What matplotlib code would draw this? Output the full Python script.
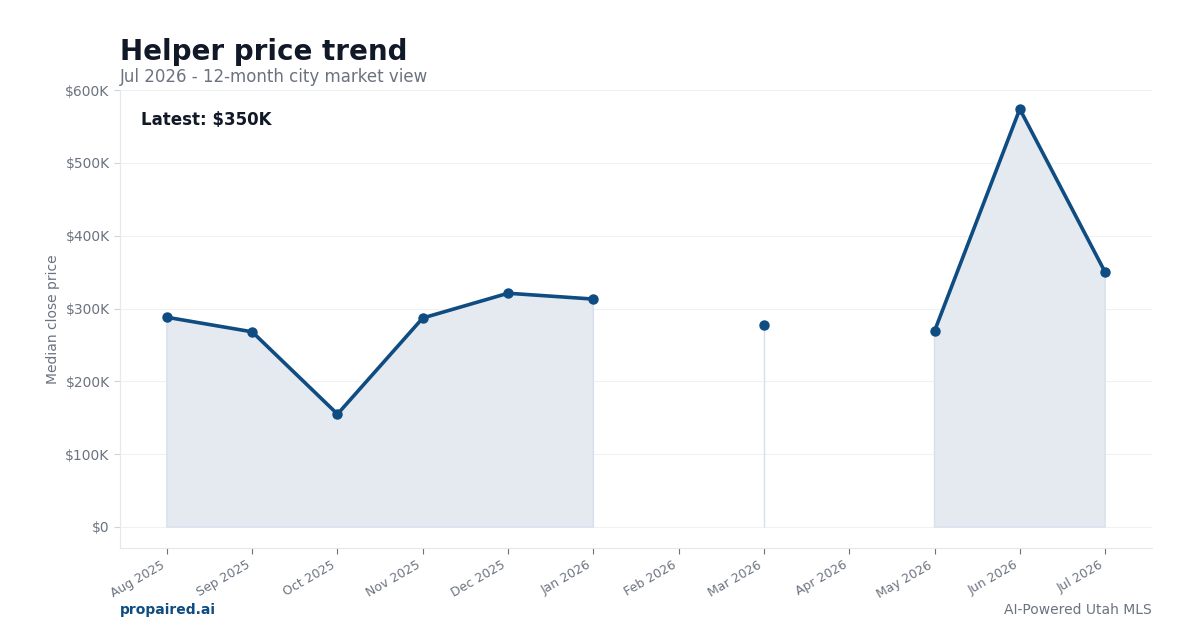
import numpy as np
import matplotlib
matplotlib.use("Agg")
from matplotlib import pyplot as plt
from matplotlib.ticker import FuncFormatter

months = ["Aug 2025", "Sep 2025", "Oct 2025", "Nov 2025", "Dec 2025", "Jan 2026",
          "Feb 2026", "Mar 2026", "Apr 2026", "May 2026", "Jun 2026", "Jul 2026"]
# median close price in $K, NaN where no sales
median_price = [288, 268, 155, 287, 321, 313, np.nan, 277, np.nan, 269, 574, 350]
y_ticks = [0, 100, 200, 300, 400, 500, 600]

NAVY = "#0f4c81"
GRAY = "#6b7280"
DARK = "#111827"


def draw():
    x = np.arange(len(months))
    y = np.array(median_price, dtype=float) * 1000

    fig = plt.figure(figsize=(12, 6.3), dpi=100)
    ax = fig.add_axes([0.1, 0.13, 0.86, 0.727])

    ax.fill_between(x, 0, y, color="#e5eaf1", edgecolor="#d6e0ec", linewidth=1)
    ax.plot(x, y, color=NAVY, linewidth=2.6, marker="o", markersize=6.5, zorder=3)

    ax.set_xlim(-0.55, len(months) - 0.45)
    ax.set_ylim(-29000, 600000)
    ax.set_yticks([v * 1000 for v in y_ticks])
    ax.yaxis.set_major_formatter(FuncFormatter(lambda v, p: "$0" if v == 0 else f"${v / 1000:.0f}K"))
    ax.set_xticks(x)
    ax.set_xticklabels(months, rotation=30, ha="right")

    ax.grid(axis="y", color="#f0f1f3", linewidth=0.8)
    ax.set_axisbelow(True)
    for s in ["top", "right"]:
        ax.spines[s].set_visible(False)
    for s in ["left", "bottom"]:
        ax.spines[s].set_color("#e5e7eb")
    ax.tick_params(axis="x", colors=GRAY, labelsize=9, length=4, color=GRAY)
    ax.tick_params(axis="y", colors=GRAY, labelsize=10, length=4, color="#d1d5db")
    ax.set_ylabel("Median close price", color=GRAY, fontsize=10)

    ax.text(0.02, 0.935, "Latest: $350K", transform=ax.transAxes, fontsize=12,
            fontweight="bold", color=DARK, va="center")

    fig.text(0.1, 0.917, "Helper price trend", fontsize=20, fontweight="bold", color=DARK, va="center")
    fig.text(0.1, 0.877, "Jul 2026 - 12-month city market view", fontsize=12, color=GRAY, va="center")
    fig.text(0.1, 0.032, "propaired.ai", fontsize=10, fontweight="bold", color=NAVY, va="center")
    fig.text(0.96, 0.032, "AI-Powered Utah MLS", fontsize=10, color=GRAY, va="center", ha="right")

    fig.savefig("out.png", dpi=100)


if __name__ == "__main__":
    draw()
